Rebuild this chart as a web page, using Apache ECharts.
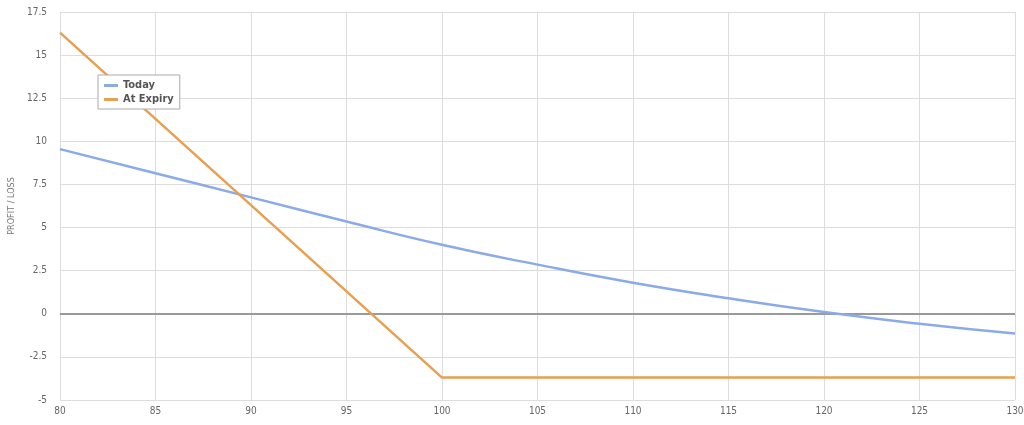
<!DOCTYPE html>
<html><head><meta charset="utf-8">
<script src="https://cdn.jsdelivr.net/npm/echarts@6/dist/echarts.min.js"></script>
<style>html,body{margin:0;padding:0;background:#fff}#c{width:1024px;height:425px}</style>
</head><body><div id="c"></div>
<script>
const prices = [80, 85, 90, 95, 100, 105, 110, 115, 120, 125, 130];
const todayPL = [9.55, 8.15, 6.75, 5.35, 4.0, 2.85, 1.8, 0.9, 0.1, -0.58, -1.15];
const expiryPrices = [80, 100, 130];
const expiryPL = [16.3, -3.7, -3.7];
const seriesNames = ['Today', 'At Expiry'];
const yTitle = 'PROFIT / LOSS';

const font = "'DejaVu Sans Condensed','Liberation Sans Narrow',sans-serif";
const chart = echarts.init(document.getElementById('c'));
chart.setOption({
  animation: false,
  backgroundColor: '#fff',
  textStyle: { fontFamily: font },
  grid: { left: 60, right: 9, top: 12, bottom: 25, outerBoundsMode: 'none', containLabel: false },
  legend: {
    orient: 'vertical', left: 98, top: 75, z: 20,
    padding: [5, 6, 4, 6], itemGap: 3,
    backgroundColor: '#fff',
    borderColor: '#aaa', borderWidth: 1,
    itemWidth: 14, itemHeight: 3,
    textStyle: { fontFamily: font, fontSize: 11, color: '#555', fontWeight: 'bold' },
    data: [
      { name: seriesNames[0], icon: 'rect' },
      { name: seriesNames[1], icon: 'rect' }
    ]
  },
  xAxis: {
    type: 'value', min: 80, max: 130, interval: 5,
    axisLine: { show: true, lineStyle: { color: '#ccc' } },
    axisTick: { show: true, length: 4, lineStyle: { color: '#c8d4e8' } },
    axisLabel: { color: '#666', fontSize: 10, margin: 6, fontFamily: font },
    splitLine: { show: true, lineStyle: { color: '#ddd' } }
  },
  yAxis: {
    type: 'value', min: -5, max: 17.5, interval: 2.5,
    name: yTitle, nameLocation: 'middle', nameGap: 36,
    nameTextStyle: { color: '#777', fontSize: 9, fontFamily: font },
    axisLine: { show: true, lineStyle: { color: '#ddd' } },
    axisTick: { show: false },
    axisLabel: { color: '#666', fontSize: 10, margin: 13, fontFamily: font },
    splitLine: { show: true, lineStyle: { color: '#ddd' } }
  },
  series: [
    {
      name: seriesNames[0], type: 'line', smooth: true, showSymbol: false,
      color: '#8aaae8',
      lineStyle: { width: 2.5, color: '#8aaae8' },
      data: prices.map((p, i) => [p, todayPL[i]]),
      z: 3,
      markLine: {
        silent: true, symbol: ['none', 'none'], label: { show: false },
        lineStyle: { color: '#9a9a9a', width: 2, type: 'solid' },
        data: [{ yAxis: 0 }], z: 1
      }
    },
    {
      name: seriesNames[1], type: 'line', showSymbol: false,
      color: '#e8a050',
      lineStyle: { width: 2.5, color: '#e8a050' },
      data: expiryPrices.map((p, i) => [p, expiryPL[i]]),
      z: 4
    }
  ]
});
</script></body></html>
